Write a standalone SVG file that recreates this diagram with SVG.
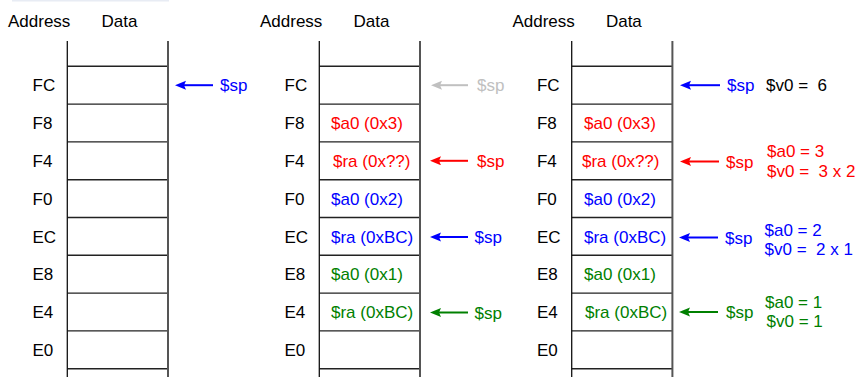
<svg xmlns="http://www.w3.org/2000/svg" xmlns:xlink="http://www.w3.org/1999/xlink" width="855" height="377" viewBox="0 0 855 377">
  <style>
    text { font-family: "Liberation Sans", Arial, sans-serif; font-size: 17px; }
    .hdr, .addr { fill: #000; }
    .blue { fill: #0000ff; }
    .red { fill: #ff0000; }
    .green { fill: #008000; }
    .gray { fill: #c0c0c0; }
    .black { fill: #000; }
    .edge-l { stroke: #111; stroke-width: 1.3; }
    .edge-r { stroke: #555; stroke-width: 2; }
    .row { stroke: #222; stroke-width: 1.4; }
    .ptr { fill: none; stroke-width: 2; }
  </style>
  <defs>
    <marker id="head-blue" markerUnits="userSpaceOnUse" markerWidth="12" markerHeight="10" refX="2" refY="4.5" orient="auto">
      <path d="M0,0 L11,4.5 L0,9 L2,4.5 z" fill="#0000ff"/>
    </marker>
    <marker id="head-red" markerUnits="userSpaceOnUse" markerWidth="12" markerHeight="10" refX="2" refY="4.5" orient="auto">
      <path d="M0,0 L11,4.5 L0,9 L2,4.5 z" fill="#ff0000"/>
    </marker>
    <marker id="head-green" markerUnits="userSpaceOnUse" markerWidth="12" markerHeight="10" refX="2" refY="4.5" orient="auto">
      <path d="M0,0 L11,4.5 L0,9 L2,4.5 z" fill="#008000"/>
    </marker>
    <marker id="head-gray" markerUnits="userSpaceOnUse" markerWidth="12" markerHeight="10" refX="2" refY="4.5" orient="auto">
      <path d="M0,0 L11,4.5 L0,9 L2,4.5 z" fill="#c0c0c0"/>
    </marker>

    <!-- empty stack frame: headers, walls, row dividers and addresses -->
    <g id="frame">
      <text class="hdr" x="8" y="27">Address</text>
      <text class="hdr" x="101.5" y="27">Data</text>
      <line class="row" x1="67.3" y1="66.3" x2="168" y2="66.3"/>
      <line class="row" x1="67.3" y1="104.1" x2="168" y2="104.1"/>
      <line class="row" x1="67.3" y1="141.9" x2="168" y2="141.9"/>
      <line class="row" x1="67.3" y1="179.7" x2="168" y2="179.7"/>
      <line class="row" x1="67.3" y1="217.5" x2="168" y2="217.5"/>
      <line class="row" x1="67.3" y1="255.3" x2="168" y2="255.3"/>
      <line class="row" x1="67.3" y1="293.1" x2="168" y2="293.1"/>
      <line class="row" x1="67.3" y1="330.9" x2="168" y2="330.9"/>
      <line class="row" x1="67.3" y1="368.7" x2="168" y2="368.7"/>
      <line class="edge-l" x1="67.3" y1="41" x2="67.3" y2="377"/>
      <line class="edge-r" x1="168" y1="41" x2="168" y2="377"/>
      <text class="addr" x="32.5" y="91.3">FC</text>
      <text class="addr" x="32.5" y="129.1">F8</text>
      <text class="addr" x="32.5" y="166.9">F4</text>
      <text class="addr" x="32.5" y="204.7">F0</text>
      <text class="addr" x="32.5" y="242.5">EC</text>
      <text class="addr" x="32.5" y="280.3">E8</text>
      <text class="addr" x="32.5" y="318.1">E4</text>
      <text class="addr" x="32.5" y="355.9">E0</text>
    </g>
  </defs>

  <rect x="12" y="0" width="157" height="1.5" fill="#e8ecf4"/>

  <!-- stack before the first call -->
  <g id="stack-initial">
    <use xlink:href="#frame"/>
  </g>

  <!-- stack at the deepest call -->
  <g id="stack-deepest">
    <use xlink:href="#frame" transform="translate(252,0)"/>
    <text class="red" x="331" y="129.1">$a0 (0x3)</text>
    <text class="red" x="333" y="166.9">$ra (0x??)</text>
    <text class="blue" x="331" y="204.7">$a0 (0x2)</text>
    <text class="blue" x="331" y="242.5">$ra (0xBC)</text>
    <text class="green" x="331" y="280.3">$a0 (0x1)</text>
    <text class="green" x="331" y="318.1">$ra (0xBC)</text>
  </g>

  <!-- stack after all returns -->
  <g id="stack-returned">
    <use xlink:href="#frame" transform="translate(504.4,0)"/>
    <text class="red" x="584" y="129.1">$a0 (0x3)</text>
    <text class="red" x="582" y="166.9">$ra (0x??)</text>
    <text class="blue" x="584" y="204.7">$a0 (0x2)</text>
    <text class="blue" x="584" y="242.5">$ra (0xBC)</text>
    <text class="green" x="584" y="280.3">$a0 (0x1)</text>
    <text class="green" x="585" y="318.1">$ra (0xBC)</text>
  </g>

  <!-- stack pointer arrows -->
  <g id="connectors">
    <line class="ptr" stroke="#0000ff" x1="213" y1="85.2" x2="184" y2="85.2" marker-end="url(#head-blue)"/>
    <line class="ptr" stroke="#c0c0c0" x1="468" y1="85.2" x2="440" y2="85.2" marker-end="url(#head-gray)"/>
    <line class="ptr" stroke="#ff0000" x1="468" y1="160.8" x2="439" y2="160.8" marker-end="url(#head-red)"/>
    <line class="ptr" stroke="#0000ff" x1="468" y1="237" x2="439" y2="237" marker-end="url(#head-blue)"/>
    <line class="ptr" stroke="#008000" x1="468" y1="312.5" x2="439" y2="312.5" marker-end="url(#head-green)"/>
    <line class="ptr" stroke="#0000ff" x1="720" y1="85.2" x2="689" y2="85.2" marker-end="url(#head-blue)"/>
    <line class="ptr" stroke="#ff0000" x1="719" y1="161.5" x2="689" y2="161.5" marker-end="url(#head-red)"/>
    <line class="ptr" stroke="#0000ff" x1="718" y1="237.5" x2="688" y2="237.5" marker-end="url(#head-blue)"/>
    <line class="ptr" stroke="#008000" x1="718" y1="312" x2="688" y2="312" marker-end="url(#head-green)"/>
  </g>

  <!-- pointer labels -->
  <g id="sp-labels">
    <text class="blue" x="220" y="91.3">$sp</text>
    <text class="gray" x="477" y="91.3">$sp</text>
    <text class="red" x="477" y="166.9">$sp</text>
    <text class="blue" x="474.5" y="243">$sp</text>
    <text class="green" x="474.5" y="318.5">$sp</text>
    <text class="blue" x="727" y="91.3">$sp</text>
    <text class="red" x="726" y="167.5">$sp</text>
    <text class="blue" x="725" y="243.5">$sp</text>
    <text class="green" x="726" y="318">$sp</text>
  </g>

  <!-- register values at each return -->
  <g id="result-final">
    <text class="black" x="766" y="91.3" xml:space="preserve">$v0 =  6</text>
  </g>
  <g id="result-a0-3">
    <text class="red" x="767" y="157">$a0 = 3</text>
    <text class="red" x="767" y="177" xml:space="preserve">$v0 =  3 x 2</text>
  </g>
  <g id="result-a0-2">
    <text class="blue" x="764.5" y="236">$a0 = 2</text>
    <text class="blue" x="764.5" y="254.5" xml:space="preserve">$v0 =  2 x 1</text>
  </g>
  <g id="result-a0-1">
    <text class="green" x="765" y="308">$a0 = 1</text>
    <text class="green" x="766.5" y="327">$v0 = 1</text>
  </g>
</svg>
